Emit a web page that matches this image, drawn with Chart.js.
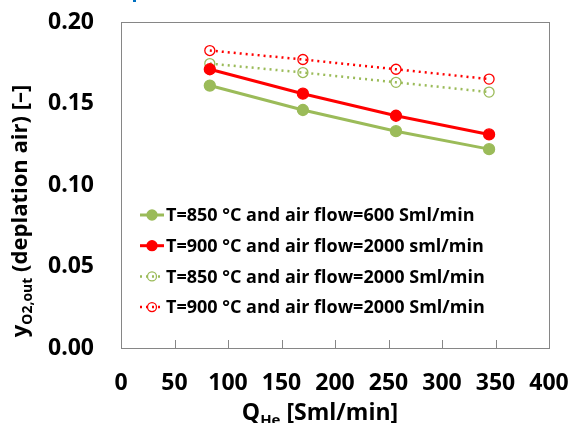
<!DOCTYPE html>
<html>
<head>
<meta charset="utf-8">
<script src="https://cdn.jsdelivr.net/npm/chart.js@4"></script>
<style>
  html, body { margin: 0; padding: 0; background: #fff; }
  #wrap { width: 570px; height: 423px; position: relative; }
</style>
</head>
<body>
<div id="wrap"><canvas id="o2Chart"></canvas></div>
<script>
// values
const qHe = [83, 170, 257, 344];
const t850air600 = [0.161, 0.146, 0.133, 0.122];
const t900air2000 = [0.171, 0.156, 0.1425, 0.131];
const t850air2000 = [0.1745, 0.169, 0.163, 0.157];
const t900air2000b = [0.1825, 0.177, 0.171, 0.165];
const labels = [
  "T=850 °C and air flow=600 Sml/min",
  "T=900 °C and air flow=2000 sml/min",
  "T=850 °C and air flow=2000 Sml/min",
  "T=900 °C and air flow=2000 Sml/min"
];
const xTicks = [0, 50, 100, 150, 200, 250, 300, 350, 400];
const yTicks = [0, 0.05, 0.10, 0.15, 0.20];

const GREEN = "#9BBB59";
const RED = "#FF0000";
const FONT = "'Open Sans', sans-serif";

const pts = ys => qHe.map((x, i) => ({ x: x, y: ys[i] }));

function series(label, ys, color, dotted) {
  return {
    label: label,
    data: pts(ys),
    borderColor: color,
    backgroundColor: color,
    borderWidth: dotted ? 2.5 : 3,
    borderDash: dotted ? [2, 4] : [],
    pointRadius: dotted ? 5 : 5.5,
    pointBorderWidth: 1.3,
    pointBackgroundColor: dotted ? "rgba(0,0,0,0)" : color,
    pointBorderColor: color,
    showLine: true,
    tension: 0,
    dotted: dotted
  };
}

// keep the plot box where the reference has it
function noPad(s) {
  s.paddingTop = 0; s.paddingBottom = 0; s.paddingLeft = 0; s.paddingRight = 0;
}

// plot frame and inward x tick marks
const frame = {
  id: "frame",
  beforeDatasetsDraw(chart) {
    const { ctx, chartArea: a, scales } = chart;
    ctx.save();
    ctx.strokeStyle = "#868686";
    ctx.lineWidth = 1;
    ctx.strokeRect(a.left + 0.5, a.top + 0.5, a.right - a.left, a.bottom - a.top);
    xTicks.slice(1, -1).forEach(v => {
      const px = Math.round(scales.x.getPixelForValue(v)) + 0.5;
      ctx.beginPath();
      ctx.moveTo(px, a.bottom);
      ctx.lineTo(px, a.bottom - 8);
      ctx.stroke();
    });
    ctx.restore();
  }
};

// axis titles with subscripts
const titles = {
  id: "titles",
  afterDraw(chart) {
    const { ctx } = chart;
    const big = "bold 23px " + FONT;
    const sub = "bold 15px " + FONT;
    ctx.save();
    ctx.fillStyle = "#000";
    ctx.textBaseline = "alphabetic";

    // x title
    let parts = [["Q", big, 0], ["He", sub, 5], [" [Sml/min]", big, 0]];
    let w = 0;
    parts.forEach(p => { ctx.font = p[1]; w += ctx.measureText(p[0]).width; });
    let x = 320 - w / 2;
    parts.forEach(p => {
      ctx.font = p[1];
      ctx.fillText(p[0], x, 420 + p[2]);
      x += ctx.measureText(p[0]).width;
    });

    // y title
    const ybig = "bold 22px " + FONT;
    const ysub = "bold 14px " + FONT;
    parts = [["y", ybig, 0], ["O2,out", ysub, 5], [" (deplation air) [\u2013]", ybig, 0]];
    w = 0;
    parts.forEach(p => { ctx.font = p[1]; w += ctx.measureText(p[0]).width; });
    ctx.translate(27, 211);
    ctx.rotate(-Math.PI / 2);
    x = -w / 2;
    parts.forEach(p => {
      ctx.font = p[1];
      ctx.fillText(p[0], x, p[2]);
      x += ctx.measureText(p[0]).width;
    });
    ctx.restore();

    // clipped blue title fragment at top
    ctx.fillStyle = "#0070C0";
    ctx.fillRect(133, 0, 3, 2);
  }
};

// legend inside plot area, lower left
const insideLegend = {
  id: "insideLegend",
  afterDraw(chart) {
    const { ctx, chartArea: a } = chart;
    ctx.save();
    chart.data.datasets.forEach((ds, i) => {
      const y = a.top + 193 + i * 30.7;
      const x0 = a.left + 19;
      ctx.strokeStyle = ds.borderColor;
      ctx.lineWidth = ds.borderWidth;
      ctx.setLineDash(ds.borderDash);
      ctx.beginPath();
      ctx.moveTo(x0, y);
      ctx.lineTo(x0 + 24, y);
      ctx.stroke();
      ctx.setLineDash([]);
      ctx.beginPath();
      ctx.arc(x0 + 12, y, ds.pointRadius - 0.5, 0, Math.PI * 2);
      ctx.lineWidth = ds.pointBorderWidth;
      if (!ds.dotted) {
        ctx.fillStyle = ds.borderColor;
        ctx.fill();
      }
      ctx.stroke();
      ctx.fillStyle = "#000";
      ctx.font = "bold 18px " + FONT;
      ctx.textBaseline = "middle";
      ctx.fillText(ds.label, x0 + 26, y + 1);
    });
    ctx.restore();
  }
};

new Chart(document.getElementById("o2Chart").getContext("2d"), {
  type: "scatter",
  data: {
    datasets: [
      series(labels[0], t850air600, GREEN, false),
      series(labels[1], t900air2000, RED, false),
      series(labels[2], t850air2000, GREEN, true),
      series(labels[3], t900air2000b, RED, true)
    ]
  },
  options: {
    responsive: true,
    maintainAspectRatio: false,
    animation: false,
    layout: { padding: { top: 22, right: 21, left: 0, bottom: 0 } },
    plugins: { legend: { display: false }, tooltip: { enabled: false } },
    scales: {
      x: {
        type: "linear",
        min: 0, max: 400,
        afterFit: s => { s.height = 75; noPad(s); },
        afterBuildTicks: s => { s.ticks = xTicks.map(v => ({ value: v })); },
        grid: { display: false, drawTicks: false },
        border: { display: false },
        ticks: { color: "#000", padding: 22, font: { family: FONT, size: 23, weight: "bold" } }
      },
      y: {
        min: 0, max: 0.2,
        afterFit: s => { s.width = 121; noPad(s); },
        afterBuildTicks: s => { s.ticks = yTicks.map(v => ({ value: v })); },
        grid: { display: false, drawTicks: false },
        border: { display: false },
        ticks: {
          color: "#000", padding: 27,
          font: { family: FONT, size: 23, weight: "bold" },
          callback: v => Number(v).toFixed(2)
        }
      }
    }
  },
  plugins: [frame, titles, insideLegend]
});
</script>
</body>
</html>
